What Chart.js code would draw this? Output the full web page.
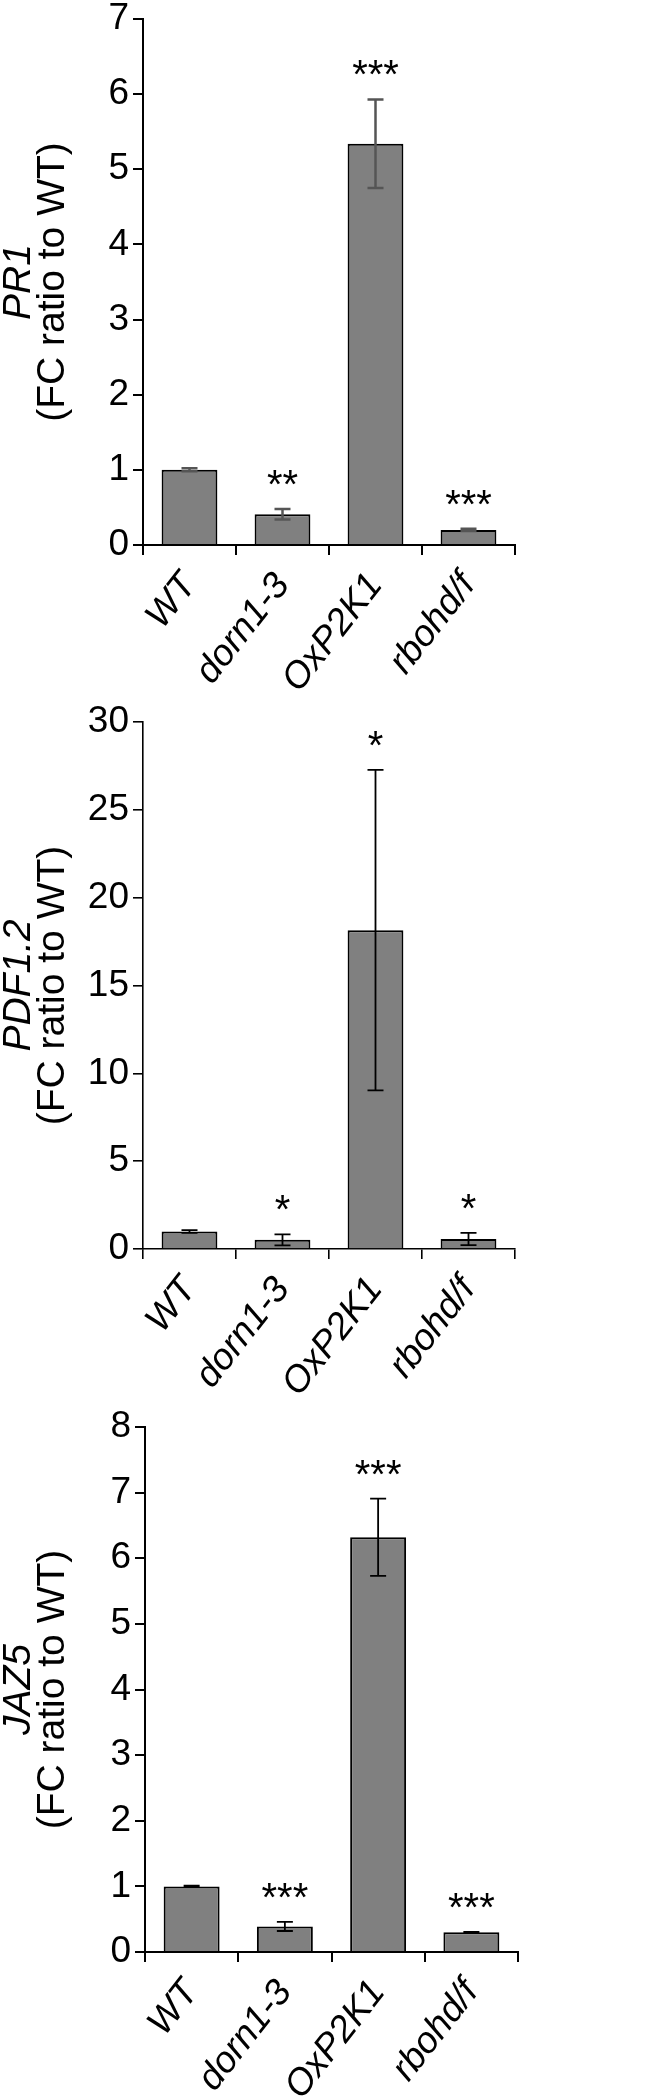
<!DOCTYPE html>
<html>
<head>
<meta charset="utf-8">
<script src="https://cdn.jsdelivr.net/npm/chart.js@4.4.0/dist/chart.umd.min.js"></script>
<style>
  body { margin: 0; background: #fff; }
  .panel { position: absolute; left: 0; }
</style>
</head>
<body>
<div class="panel" style="top:0"><canvas id="pr1Chart" width="669" height="700"></canvas></div>
<div class="panel" style="top:700px"><canvas id="pdfChart" width="669" height="700"></canvas></div>
<div class="panel" style="top:1400px"><canvas id="jazChart" width="669" height="698"></canvas></div>
<script>
// genotipos (eixo x)
const genotypes = ["WT", "dorn1-3", "OxP2K1", "rbohd/f"];

// PR1
const pr1Mean = [1.0, 0.41, 5.34, 0.2];
const pr1Err = [0.02, 0.07, 0.59, 0.015];
const pr1Stars = ["", "**", "***", "***"];
const pr1Axis = [0, 7, 1];

// PDF1.2
const pdfMean = [1.0, 0.52, 18.15, 0.57];
const pdfErr = [0.08, 0.31, 9.12, 0.35];
const pdfStars = ["", "*", "*", "*"];
const pdfAxis = [0, 30, 5];

// JAZ5
const jazMean = [1.0, 0.39, 6.32, 0.3];
const jazErr = [0.01, 0.07, 0.59, 0.006];
const jazStars = ["", "***", "***", "***"];
const jazAxis = [0, 8, 1];

const FONT = "'Liberation Sans', Arial, sans-serif";

// barras de erro, asteriscos e titulo do eixo y
const extras = {
  id: "extras",
  afterDatasetsDraw(chart, args, o) {
    const ctx = chart.ctx;
    const y = chart.scales.y;
    const area = chart.chartArea;
    const bars = chart.getDatasetMeta(0).data;
    ctx.save();
    bars.forEach((bar, i) => {
      const top = y.getPixelForValue(o.mean[i] + o.err[i]);
      const bot = y.getPixelForValue(o.mean[i] - o.err[i]);
      ctx.strokeStyle = o.errColor;
      ctx.lineWidth = o.errWidth;
      ctx.beginPath();
      ctx.moveTo(bar.x, top);
      ctx.lineTo(bar.x, bot);
      ctx.moveTo(bar.x - 8, top);
      ctx.lineTo(bar.x + 8, top);
      ctx.moveTo(bar.x - 8, bot);
      ctx.lineTo(bar.x + 8, bot);
      ctx.stroke();
      if (o.stars[i]) {
        ctx.fillStyle = "#000";
        ctx.font = "40px " + FONT;
        ctx.textAlign = "center";
        ctx.textBaseline = "alphabetic";
        ctx.fillText(o.stars[i], bar.x, top - 11);
      }
    });
    const cy = (area.top + area.bottom) / 2;
    ctx.fillStyle = "#000";
    ctx.textAlign = "center";
    ctx.textBaseline = "middle";
    ctx.translate(o.titleX, cy);
    ctx.rotate(-Math.PI / 2);
    ctx.font = "italic 39px " + FONT;
    ctx.fillText(o.gene, 0, 0);
    ctx.font = "39px " + FONT;
    ctx.fillText("(FC ratio to WT)", 0, o.titleGap);
    ctx.restore();
  },
};

function makeChart(id, mean, err, stars, axis, gene, st) {
  new Chart(document.getElementById(id), {
    type: "bar",
    data: {
      labels: genotypes,
      datasets: [
        {
          data: mean,
          backgroundColor: "#808080",
          borderColor: "#000",
          borderWidth: 2,
          categoryPercentage: 1,
          barPercentage: 0.6,
        },
      ],
    },
    plugins: [extras],
    options: {
      responsive: false,
      animation: false,
      layout: { padding: { top: st.top, right: 669 - st.right, left: 0, bottom: 0 } },
      plugins: {
        legend: { display: false },
        tooltip: { enabled: false },
        extras: {
          mean, err, stars, gene,
          errColor: st.errColor,
          errWidth: st.errWidth,
          titleX: 19,
          titleGap: 34,
        },
      },
      scales: {
        x: {
          grid: { display: true, drawOnChartArea: false, drawTicks: true, tickLength: 10, color: "#000", lineWidth: st.axisWidth, offset: true },
          border: { display: true, color: "#000", width: st.axisWidth },
          ticks: {
            color: "#000",
            font: { family: FONT, size: 37, style: "italic" },
            minRotation: 52,
            maxRotation: 52,
            autoSkip: false,
            padding: 10,
          },
          afterFit: (s) => {
            s.height = st.xHeight;
            s.paddingLeft = 0; s.paddingRight = 0; s.paddingTop = 0; s.paddingBottom = 0;
          },
        },
        y: {
          min: axis[0],
          max: axis[1],
          grid: { display: true, drawOnChartArea: false, drawTicks: true, tickLength: 10, color: "#000", lineWidth: st.axisWidth },
          border: { display: true, color: "#000", width: st.axisWidth },
          ticks: {
            stepSize: axis[2],
            color: "#000",
            font: { family: FONT, size: 37 },
            padding: 4,
          },
          afterFit: (s) => {
            s.width = st.left;
            s.paddingLeft = 0; s.paddingRight = 0; s.paddingTop = 0; s.paddingBottom = 0;
          },
        },
      },
    },
  });
}

makeChart("pr1Chart", pr1Mean, pr1Err, pr1Stars, pr1Axis, "PR1",
  { top: 19, left: 143, right: 515, xHeight: 155, errColor: "#555", errWidth: 2.5, axisWidth: 2 });
makeChart("pdfChart", pdfMean, pdfErr, pdfStars, pdfAxis, "PDF1.2",
  { top: 22, left: 143, right: 515, xHeight: 151, errColor: "#000", errWidth: 1.8, axisWidth: 1.6 });
makeChart("jazChart", jazMean, jazErr, jazStars, jazAxis, "JAZ5",
  { top: 27, left: 145, right: 518, xHeight: 146, errColor: "#000", errWidth: 1.8, axisWidth: 2 });
</script>
</body>
</html>
